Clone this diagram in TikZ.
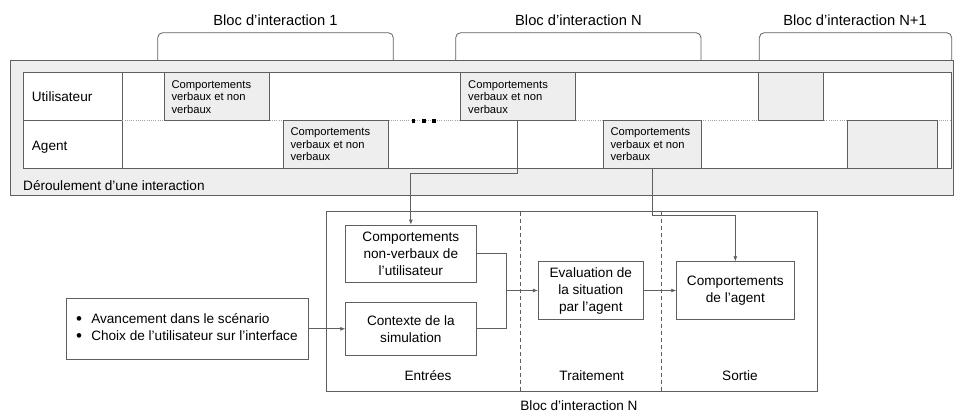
\documentclass[tikz,border=0pt]{standalone}
\usepackage{fontspec}
\setmainfont{Liberation Sans}
\usetikzlibrary{arrows.meta}
\definecolor{gfill}{RGB}{238,238,238}
\definecolor{gline}{RGB}{95,95,95}
\definecolor{gdot}{RGB}{165,165,165}
\newcommand{\bigbul}{\raisebox{-0.7pt}{\fontsize{17}{17}\selectfont\textbullet}}
\begin{document}
\begin{tikzpicture}[x=1pt,y=-1pt,
  box/.style={draw=gline, line width=0.8pt, rectangle, inner sep=0pt},
  blk/.style={box, fill=gfill},
  tsmall/.style={inner sep=0pt, anchor=north west, align=left, font=\fontsize{11.2}{12.6}\selectfont},
  tmain/.style={font=\fontsize{13.6}{17}\selectfont, align=center},
  tlab/.style={inner sep=0pt, font=\fontsize{13.6}{17}\selectfont},
  thead/.style={inner sep=0pt, anchor=base, font=\fontsize{14.7}{17}\selectfont},
  conn/.style={draw=gline, line width=0.8pt},
  arr/.style={conn, -{Latex[length=5pt,width=4pt]}},
  bracket/.style={draw=gline, line width=0.8pt, rounded corners=5pt}]
\useasboundingbox (0,0) rectangle (954,412);

% ---- timeline ----
\node[blk, minimum width=943.5, minimum height=135] (outer) at (481.75,127.5) {};
\node[box, fill=white, minimum width=928.5, minimum height=95.3] (tbl) at (487.25,120.35) {};
\draw[gline, line width=0.8pt] (122.3,72.7) -- (122.3,168);
\draw[gline, line width=0.8pt] (23,120) -- (122.3,120);
\draw[gdot, line width=0.8pt, dash pattern=on 1pt off 1.2pt] (122.3,120) -- (951.5,120);

\node[blk, minimum width=105, minimum height=47.3] (U1) at (216.5,96.35) {};
\node[blk, minimum width=105, minimum height=48] (A1) at (335.5,144) {};
\node[blk, minimum width=114.3, minimum height=47.3] (UN) at (517.85,96.35) {};
\node[blk, minimum width=98, minimum height=48] (AN) at (652,144) {};
\node[blk, minimum width=65, minimum height=47.3] (UN1) at (790.5,96.35) {};
\node[blk, minimum width=90, minimum height=48] (AN1) at (892,144) {};

\foreach \b in {U1,A1,UN,AN}{
  \node[tsmall] (t\b) at ([shift={(7.7,8)}]\b.north west) {Comportements\\verbaux et non\\verbaux};
}

\node[tlab, anchor=base west] (lu) at (31.7,101.7) {Utilisateur};
\node[tlab, anchor=base west] (la) at (31.7,150) {Agent};
\node[tlab, anchor=base west] (ld) at (23,190) {Déroulement d’une interaction};

\foreach \x in {413.3,423.8,434.2}{
  \fill[black] (\x-1.8,119.2) rectangle (\x+1.8,122.8);
}

% brackets
\draw[bracket] (157.7,60) -- (157.7,32.7) -- (393.3,32.7) -- (393.3,60);
\draw[bracket] (455.7,60) -- (455.7,32.7) -- (701,32.7) -- (701,60);
\draw[bracket] (759.3,60) -- (759.3,32.7) -- (951.7,32.7) -- (951.7,60);
\node[thead] (h1) at (275.5,26) {Bloc d’interaction 1};
\node[thead] (hN) at (578.5,26) {Bloc d’interaction N};
\node[thead] (hN1) at (855,26) {Bloc d’interaction N+1};

% ---- bloc N detail ----
\node[box, minimum width=491, minimum height=180] (big) at (572.2,301.7) {};
\draw[gline, line width=0.8pt, dash pattern=on 4pt off 3pt] (520.7,211.7) -- (520.7,391.7);
\draw[gline, line width=0.8pt, dash pattern=on 4pt off 3pt] (661.7,211.7) -- (661.7,391.7);

\node[box, tmain, minimum width=130.3, minimum height=57.7] (CNV) at (410.85,253.85) {Comportements\\non-verbaux de\\l’utilisateur};
\node[box, tmain, minimum width=130.3, minimum height=52.7] (CTX) at (410.85,328.65) {Contexte de la\\simulation};
\node[box, minimum width=242.3, minimum height=61] (LEFT) at (187.15,328.8) {};
\node[inner sep=0pt, anchor=west, font=\fontsize{13.6}{16.6}\selectfont] (lefttxt) at ([xshift=10.2]LEFT.west)
  {\begin{tabular}{@{}l@{\hspace{9.3pt}}l@{}}\bigbul & Avancement dans le scénario\\ \bigbul & Choix de l’utilisateur sur l’interface\end{tabular}};
\node[box, tmain, minimum width=105, minimum height=57.6] (EVAL) at (590.8,290.5) {Evaluation de\\la situation\\par l’agent};
\node[box, tmain, minimum width=117.3, minimum height=57.6] (CDA) at (735.35,290.5) {Comportements\\de l’agent};

\node[tlab, anchor=base] (le) at (428,380) {Entrées};
\node[tlab, anchor=base] (lt) at (591.7,380) {Traitement};
\node[tlab, anchor=base] (ls) at (740,380) {Sortie};
\node[tlab, anchor=base] (lb) at (579,410) {Bloc d’interaction N};

% connectors
\coordinate (J) at (506.7,290.5);
\draw[arr] (UN.south) -- ++(0,52.7) -| (CNV.north);
\draw[arr] (AN.south) -- ++(0,47) -| (CDA.north);
\draw[conn] (CNV.east) -| (J);
\draw[conn] (CTX.east) -| (J);
\draw[arr] (J) -- (EVAL.west);
\draw[arr] (LEFT.east) -- (LEFT.east -| CTX.west);
\draw[arr] (EVAL.east) -- (CDA.west);
\end{tikzpicture}
\end{document}
